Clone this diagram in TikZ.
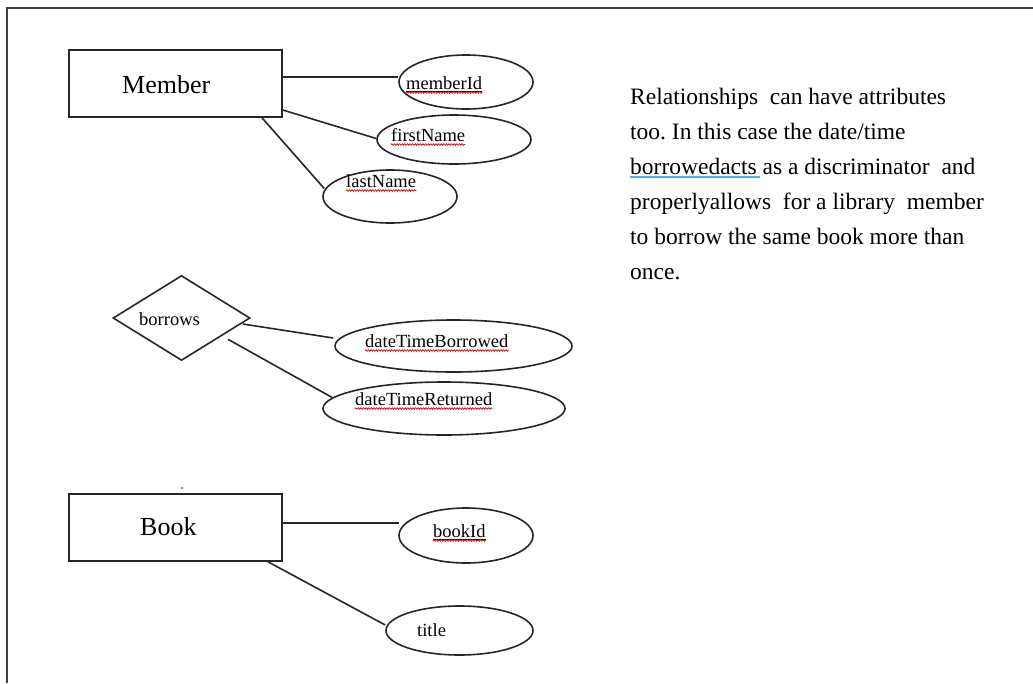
\documentclass[tikz,border=0pt]{standalone}
\usepackage{fontspec}
\setmainfont{Liberation Serif}
\usetikzlibrary{shapes.geometric,decorations.pathmorphing}
\frenchspacing

\tikzset{
  line/.style={draw=black!85, line width=1.6pt},
  entity/.style={rectangle, line, minimum width=213pt, minimum height=67pt, inner sep=0pt},
  attrib/.style={ellipse, line, inner sep=0pt},
  relship/.style={diamond, line, inner sep=0pt, minimum width=137pt, minimum height=85pt},
  bigtxt/.style={anchor=base west, inner sep=0pt, font=\fontsize{26}{30}\selectfont},
  smalltxt/.style={anchor=base west, inner sep=0pt, font=\fontsize{18.5}{22}\selectfont},
  spell/.style={draw=red!90!black, line width=0.7pt, decorate,
    decoration={snake, amplitude=0.8pt, segment length=2.6pt}},
  keyline/.style={draw=black, line width=0.8pt},
}

\begin{document}
\begin{tikzpicture}[x=1pt, y=-1pt]
  \useasboundingbox (0,0) rectangle (1033,683);

  % page frame (top and left edges)
  \draw[draw=black!75, line width=2pt] (7,683) -- (7,8) -- (1033,8);

  % entities
  \node[entity] (member) at (175.5,83.5) {};
  \node[entity] (book)   at (175.5,527.5) {};
  \node[bigtxt] (memberLbl) at (122,93) {Member};
  \node[bigtxt] (bookLbl)   at (140,535) {Book};
  \fill (182,488) circle (0.9pt);

  % relationship
  \node[relship] (borrows) at (181.5,318) {};
  \node[smalltxt] (borrowsLbl) at (139,325) {borrows};

  % attributes
  \node[attrib, minimum width=134pt, minimum height=54pt] (memberId)  at (466,82) {};
  \node[attrib, minimum width=154pt, minimum height=49pt] (firstName) at (454,139.5) {};
  \node[attrib, minimum width=134pt, minimum height=53pt] (lastName)  at (390,196.5) {};
  \node[attrib, minimum width=237pt, minimum height=52pt] (dtBorrowed) at (453.5,346) {};
  \node[attrib, minimum width=242pt, minimum height=53pt] (dtReturned) at (444,408.5) {};
  \node[attrib, minimum width=134pt, minimum height=55pt] (bookId)    at (466,535.5) {};
  \node[attrib, minimum width=147pt, minimum height=49pt] (title)     at (459.5,630.5) {};

  \node[smalltxt] (memberIdLbl)   at (406,89)  {memberId};
  \node[smalltxt] (firstNameLbl)  at (391,141) {firstName};
  \node[smalltxt] (lastNameLbl)   at (346,187) {lastName};
  \node[smalltxt] (dtBorrowedLbl) at (365,347) {dateTimeBorrowed};
  \node[smalltxt] (dtReturnedLbl) at (355,405) {dateTimeReturned};
  \node[smalltxt] (bookIdLbl)     at (433,537) {bookId};
  \node[smalltxt] (titleLbl)      at (417,636) {title};

  % key underlines
  \draw[keyline] ([yshift=-2pt]memberIdLbl.base west) -- ([yshift=-2pt]memberIdLbl.base east);
  \draw[keyline] ([yshift=-2pt]bookIdLbl.base west) -- ([yshift=-2pt]bookIdLbl.base east);

  % spelling marks
  \foreach \n in {memberIdLbl,firstNameLbl,lastNameLbl,dtBorrowedLbl,dtReturnedLbl,bookIdLbl}
    \draw[spell] ([yshift=-3.5pt]\n.base west) -- ([yshift=-3.5pt]\n.base east);

  % connectors
  \draw[line] ([yshift=6.5pt]member.east) -- ([yshift=5pt]memberId.west);
  \draw[line] ([yshift=-26.5pt]member.east) -- ([yshift=1pt]firstName.west);
  \draw[line] ([xshift=86.5pt]member.south) -- ([yshift=8pt,xshift=2pt]lastName.west);
  \draw[line] ([xshift=-8pt,yshift=-6pt]borrows.east) -- ([yshift=8pt,xshift=-1pt]dtBorrowed.west);
  \draw[line] ([xshift=46.5pt,yshift=22pt]borrows.south) -- ([yshift=11pt,xshift=10pt]dtReturned.west);
  \draw[line] ([yshift=4.5pt]book.east) -- ([yshift=12.5pt,xshift=1pt]bookId.west);
  \draw[line] ([xshift=92.5pt]book.south) -- ([yshift=5.5pt]title.west);

  % note
  \node[anchor=north west, inner sep=0pt, align=left,
        font=\fontsize{23.5}{35}\selectfont] (note) at (630,88)
    {Relationships\ \ can have attributes\\
     too. In this case the date/time\\
     borrowedacts as a discriminator\ \ and\\
     properlyallows\ \ for a library\ \ member\\
     to borrow the same book more than\\
     once.};
  \draw[draw=blue!45!cyan!70!white, line width=2pt] (630,177) -- (760,177);
\end{tikzpicture}
\end{document}
